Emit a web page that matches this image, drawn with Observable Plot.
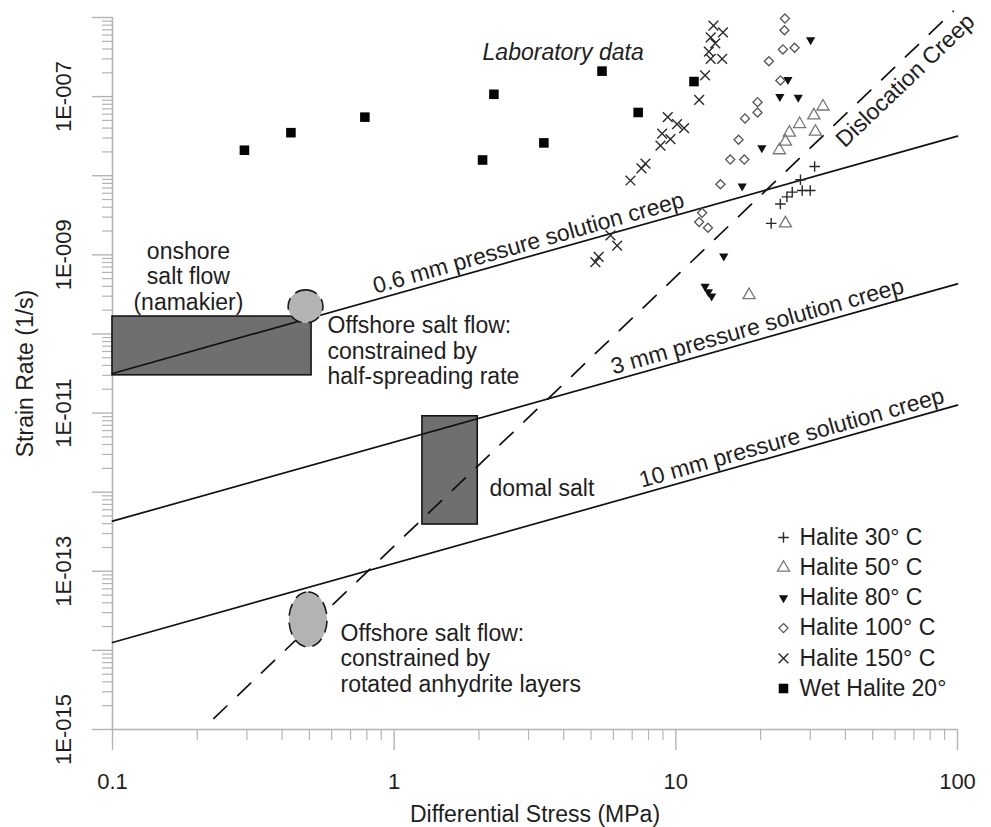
<!DOCTYPE html>
<html>
<head>
<meta charset="utf-8">
<script src="https://cdn.jsdelivr.net/npm/d3@7"></script>
<script src="https://cdn.jsdelivr.net/npm/@observablehq/plot@0.6"></script>
<style>
  html, body { margin: 0; padding: 0; background: #fff; }
  #chart { width: 991px; height: 827px; }
</style>
</head>
<body>
<div id="chart"></div>
<script>
// ---------- DATA (stress in MPa, strain rate in 1/s) ----------
const halite30 = [[31.1,1.31e-8],[27.7,8.9e-9],[28.1,6.5e-9],[30.0,6.5e-9],[25.9,6.2e-9],[24.8,5.4e-9],[23.5,4.4e-9],[21.8,2.5e-9]];
const halite50 = [[33.3,7.5e-8],[30.9,5.8e-8],[27.5,4.5e-8],[25.3,3.5e-8],[31.3,3.6e-8],[24.5,2.7e-8],[23.3,2.1e-8],[24.5,2.5e-9],[18.2,3.1e-10]];
const halite80 = [[30.1,5.2e-7],[25.0,1.64e-7],[23.4,1.0e-7],[27.2,9.8e-8],[20.2,2.25e-8],[17.2,7.4e-9],[14.8,9.6e-10],[12.7,4.0e-10],[13.05,3.4e-10],[13.4,3.0e-10]];
const halite100 = [[24.4,9.7e-7],[24.3,6.9e-7],[24.0,3.95e-7],[26.4,4.15e-7],[21.4,2.8e-7],[23.5,1.6e-7],[19.5,8.5e-8],[19.5,6.3e-8],[17.6,5.3e-8],[16.7,2.85e-8],[15.6,1.6e-8],[17.5,1.6e-8],[14.4,7.8e-9],[12.4,3.4e-9],[12.1,2.6e-9],[13.0,2.2e-9]];
const halite150 = [[13.6,7.9e-7],[14.7,6.5e-7],[13.3,5.6e-7],[13.8,4.7e-7],[13.1,3.7e-7],[13.3,3.0e-7],[14.6,3.0e-7],[12.7,1.85e-7],[12.1,9.1e-8],[9.36,5.5e-8],[10.1,4.5e-8],[10.7,4.0e-8],[8.94,3.4e-8],[9.57,2.9e-8],[8.82,2.4e-8],[7.80,1.42e-8],[7.55,1.24e-8],[6.90,8.7e-9],[5.86,1.76e-9],[6.19,1.31e-9],[5.32,9.4e-10],[5.18,8.1e-10]];
const wetHalite20 = [[0.294,2.1e-8],[0.43,3.5e-8],[0.787,5.5e-8],[2.26,1.07e-7],[2.06,1.58e-8],[3.40,2.6e-8],[5.47,2.1e-7],[7.35,6.3e-8],[11.6,1.55e-7]];

const legendLabels = ["Halite 30° C", "Halite 50° C", "Halite 80° C", "Halite 100° C", "Halite 150° C", "Wet Halite 20°"];

// pressure-solution creep lines (grain size) and dislocation creep line
const creepLabels = ["0.6 mm pressure solution creep", "3 mm pressure solution creep", "10 mm pressure solution creep"];
const creepStress = [0.1, 100];
const creepRates = [[3.16e-11, 3.16e-8], [4.3e-13, 4.3e-10], [1.26e-14, 1.26e-11]];
const creepLabelStress = [3.05, 19.8, 26.2];
const dislocationStress = [0.229, 96.6];
const dislocationRate = [1.38e-15, 1.2e-6];
const dislocationLabelStress = 59.2;

// natural strain-rate zones
const boxNames = ["onshore salt flow", "domal salt"];
const boxStress = [[0.1, 0.509], [1.26, 1.98]];
const boxRate = [[3.0e-11, 1.66e-10], [3.9e-13, 9.1e-12]];
const ovalNames = ["offshore half-spreading", "offshore anhydrite"];
const ovalStress = [[0.422, 0.561], [0.425, 0.580]];
const ovalRate = [[1.36e-10, 3.55e-10], [1.09e-14, 5.4e-14]];

const noteTexts = ["onshore\nsalt flow\n(namakier)", "Offshore salt flow:\nconstrained by\nhalf-spreading rate", "domal salt", "Offshore salt flow:\nconstrained by\nrotated anhydrite layers"];
const noteStress = [0.186, 0.58, 2.18, 0.645];
const noteRate = [5.4e-10, 6.18e-11, 1.13e-12, 8.0e-15];
const noteAnchor = ["middle", "start", "start", "start"];
const labTitle = "Laboratory data";
const labStress = 2.06, labRate = 3.56e-7;

// axes
const xMajorTicks = [0.1, 1, 10, 100];
const xTickLabels = ["0.1", "1", "10", "100"];
const xMinorTicks = [0.1, 1, 10].flatMap(d => [2,3,4,5,6,7,8,9].map(k => k * d));
const yMajorTicks = d3.range(-15, -5).map(e => Math.pow(10, e));
const yMinorTicks = d3.range(-15, -6).flatMap(e => [2,3,4,5,6,7,8,9].map(k => k * Math.pow(10, e)));
const yLabelTicks = [1e-15, 1e-13, 1e-11, 1e-9, 1e-7];
const yTickLabels = ["1E-015", "1E-013", "1E-011", "1E-009", "1E-007"];
const xTitle = "Differential Stress (MPa)";
const yTitle = "Strain Rate (1/s)";

// ---------- STYLES ----------
const triangleDown = {
  draw(context, size) {
    const s = Math.sqrt(size) * 0.6824, t = s / 2, u = s * Math.sqrt(3) / 2;
    context.moveTo(0, s); context.lineTo(u, -t); context.lineTo(-u, -t); context.closePath();
  }
};
const seriesData = [halite30, halite50, halite80, halite100, halite150, wetHalite20];
const seriesStyle = [
  {symbol: "plus", r: 3.5, stroke: "#2a2a2a", fill: "none", strokeWidth: 1.4},
  {symbol: "triangle", r: 4.5, stroke: "#777", fill: "none", strokeWidth: 1.3},
  {symbol: triangleDown, r: 4.4, fill: "#111", stroke: "none"},
  {symbol: "diamond2", r: 4.1, stroke: "#555", fill: "none", strokeWidth: 1.3},
  {symbol: "times", r: 4.5, stroke: "#2a2a2a", fill: "none", strokeWidth: 1.4},
  {symbol: "square", r: 5.4, fill: "#050505", stroke: "none"}
];
const axisGray = "#b4b4b4";
const ink = "#1e1e1e";

function onLine(xs, ys, x) {
  const lx0 = Math.log10(xs[0]), lx1 = Math.log10(xs[1]);
  const ly0 = Math.log10(ys[0]), ly1 = Math.log10(ys[1]);
  const t = (Math.log10(x) - lx0) / (lx1 - lx0);
  return Math.pow(10, ly0 + t * (ly1 - ly0));
}

const boxes = boxNames.map((n, i) => ({n, x1: boxStress[i][0], x2: boxStress[i][1], y1: boxRate[i][0], y2: boxRate[i][1]}));
const ovals = ovalNames.map((n, i) => ({n, x1: ovalStress[i][0], x2: ovalStress[i][1], y1: ovalRate[i][0], y2: ovalRate[i][1]}));
const notes = noteTexts.map((t, i) => ({t, x: noteStress[i], y: noteRate[i], a: noteAnchor[i]}));

const marks = [
  // axes
  Plot.ruleX([0.1], {stroke: axisGray, strokeWidth: 1.6}),
  Plot.ruleY([1e-15], {stroke: axisGray, strokeWidth: 1.6}),
  Plot.axisX(xMajorTicks, {tickSize: 21, tickFormat: () => "", stroke: axisGray, strokeWidth: 1.4, label: null}),
  Plot.axisX(xMinorTicks, {tickSize: 11, tickFormat: () => "", stroke: axisGray, strokeWidth: 1.2, label: null}),
  Plot.axisY(yMajorTicks, {tickSize: 20, tickFormat: () => "", stroke: axisGray, strokeWidth: 1.4, label: null}),
  Plot.axisY(yMinorTicks, {tickSize: 10, tickFormat: () => "", stroke: axisGray, strokeWidth: 1.2, label: null}),
  Plot.text(xMajorTicks, {x: d => d, text: (d, i) => xTickLabels[i], frameAnchor: "bottom", dy: 52, textAnchor: "middle", lineAnchor: "middle", fill: ink, fontSize: 22}),
  Plot.text(yLabelTicks, {y: d => d, text: (d, i) => yTickLabels[i], frameAnchor: "left", dx: -49, rotate: -90, textAnchor: "middle", lineAnchor: "middle", fill: ink, fontSize: 22}),
  Plot.text([xTitle], {text: d => d, frameAnchor: "bottom", dy: 85, textAnchor: "middle", lineAnchor: "middle", fill: ink, fontSize: 23}),
  Plot.text([yTitle], {text: d => d, frameAnchor: "left", dx: -87, rotate: -90, textAnchor: "middle", lineAnchor: "middle", fill: ink, fontSize: 23}),

  // rectangular zones
  Plot.rect(boxes, {x1: "x1", x2: "x2", y1: "y1", y2: "y2", fill: "#6f6f6f", stroke: "#151515", strokeWidth: 1.6}),

  // creep lines
  ...creepRates.map(r => Plot.line(creepStress.map((s, i) => [s, r[i]]), {x: d => d[0], y: d => d[1], stroke: "#111", strokeWidth: 1.7})),
  Plot.line(dislocationStress.map((s, i) => [s, dislocationRate[i]]), {x: d => d[0], y: d => d[1], stroke: "#111", strokeWidth: 1.7, strokeDasharray: "18,15"}),

  // oval zones
  Plot.rect(ovals, {x1: "x1", x2: "x2", y1: "y1", y2: "y2", rx: 80, ry: 80, fill: "#b3b3b3", stroke: "#1a1a1a", strokeWidth: 1.6, strokeDasharray: "12,7"}),

  // line labels
  Plot.text(creepLabels.map((t, i) => ({t, x: creepLabelStress[i], y: onLine(creepStress, creepRates[i], creepLabelStress[i])})),
    {x: "x", y: "y", text: "t", rotate: -15.7, lineAnchor: "bottom", dy: -6, fill: ink, fontSize: 23}),
  Plot.text([{t: "Dislocation Creep", x: dislocationLabelStress, y: onLine(dislocationStress, dislocationRate, dislocationLabelStress)}],
    {x: "x", y: "y", text: "t", rotate: -43.7, lineAnchor: "middle", dx: 12, dy: 12, fill: ink, fontSize: 23}),

  // annotations
  ...notes.map(n => Plot.text([n], {x: "x", y: "y", text: "t", textAnchor: n.a, lineHeight: 1.11, fill: ink, fontSize: 23})),
  Plot.text([labTitle], {x: () => labStress, y: () => labRate, text: d => d, textAnchor: "start", fontStyle: "italic", fill: ink, fontSize: 23}),

  // laboratory data
  ...seriesData.map((data, i) => Plot.dot(data, {x: d => d[0], y: d => d[1], ...seriesStyle[i]})),

  // legend
  ...legendLabels.flatMap((lab, i) => [
    Plot.dot([lab], {frameAnchor: "top-left", dx: 671, dy: 520 + i * 30.2, ...seriesStyle[i]}),
    Plot.text([lab], {text: d => d, frameAnchor: "top-left", dx: 687, dy: 520 + i * 30.2, textAnchor: "start", lineAnchor: "middle", fill: ink, fontSize: 23})
  ])
];

const chart = Plot.plot({
  width: 991,
  height: 827,
  marginLeft: 112,
  marginRight: 34,
  marginTop: 17,
  marginBottom: 98,
  x: {type: "log", domain: [0.1, 100]},
  y: {type: "log", domain: [1e-15, 1e-6]},
  style: {fontFamily: "'Liberation Sans', Arial, sans-serif", fontSize: "23px", background: "#fff", color: ink, overflow: "visible"},
  marks
});
document.getElementById("chart").appendChild(chart);
</script>
</body>
</html>
